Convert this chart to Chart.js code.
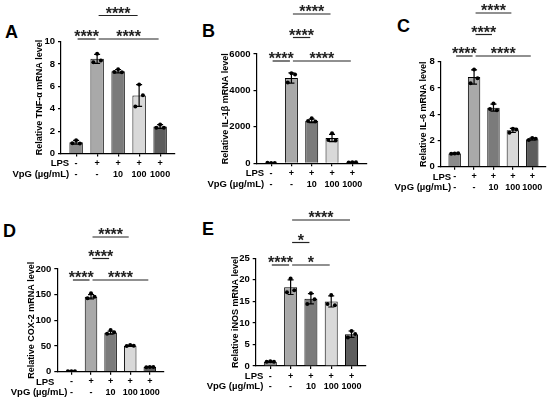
<!DOCTYPE html>
<html>
<head>
<meta charset="utf-8">
<script src="https://cdn.jsdelivr.net/npm/chart.js@4.4.1/dist/chart.umd.min.js"></script>
<style>
  html, body { margin: 0; padding: 0; background: #fff; }
  #fig { position: relative; width: 550px; height: 401px; overflow: hidden; font-family: 'Liberation Sans', Arial, sans-serif; }
  #fig canvas { position: absolute; }
  .tag { position: absolute; font-weight: bold; font-size: 18px; line-height: 18px; color: #000; }
</style>
</head>
<body>
<div id="fig">
  <div class="tag" style="left:5px;top:23px">A</div>
  <div class="tag" style="left:202px;top:22px">B</div>
  <div class="tag" style="left:397px;top:17px">C</div>
  <div class="tag" style="left:3px;top:222px">D</div>
  <div class="tag" style="left:202px;top:220px">E</div>
  <canvas id="chartA"></canvas>
  <canvas id="chartB"></canvas>
  <canvas id="chartC"></canvas>
  <canvas id="chartD"></canvas>
  <canvas id="chartE"></canvas>
</div>
<script>
// groups (x axis rows)
const lpsRow = ['-', '+', '+', '+', '+'];
const vpgRow = ['-', '-', '10', '100', '1000'];
const rowTitles = ['LPS', 'VpG (µg/mL)'];
const barColors = ['#8b8b8b', '#a9a9a9', '#7b7b7b', '#d9d9d9', '#5d5d5d'];

// A - TNF-a
const tnfMean = [1.0, 8.45, 7.35, 5.18, 2.4];
const tnfSd = [0.17, 0.4, 0.15, 0.97, 0.17];
const tnfPoints = [[1.18, 0.92, 0.9], [8.9, 8.15, 8.3], [7.52, 7.28, 7.25], [6.15, 4.2, 5.2], [2.6, 2.3, 2.3]];
const tnfTicks = [0, 2, 4, 6, 8, 10];
const tnfSig = [[0, 1, 0, '****'], [1, 4, 0, '****'], [1, 3, 1, '****']];

// B - IL-1b
const il1Mean = [20, 4680, 2330, 1390, 55];
const il1Sd = [5, 280, 100, 200, 10];
const il1Points = [[20, 25, 15], [4940, 4430, 4880], [2470, 2320, 2290], [1650, 1280, 1250], [60, 50, 55]];
const il1Ticks = [0, 2000, 4000, 6000];
const il1Sig = [[0, 1, 0, '****'], [1, 4, 0, '****'], [1, 2, 1, '****'], [1, 3, 2, '****']];

// C - IL-6
const il6Mean = [1.0, 6.83, 4.5, 2.77, 2.1];
const il6Sd = [0.03, 0.54, 0.27, 0.15, 0.08];
const il6Points = [[1.0, 0.98, 1.02], [7.41, 6.35, 6.73], [4.82, 4.39, 4.31], [2.89, 2.59, 2.84], [2.18, 2.03, 2.13]];
const il6Ticks = [0, 2, 4, 6, 8];
const il6Sig = [[0, 1, 0, '****'], [1, 4, 0, '****'], [1, 2, 1, '****'], [1, 3, 2, '****']];

// D - COX-2
const coxMean = [1, 146, 76, 50.5, 9];
const coxSd = [0.5, 4, 3, 1, 0.5];
const coxPoints = [[1, 1, 1], [153, 143, 146], [81, 74, 76.6], [52, 50, 50.6], [9, 8.5, 9]];
const coxTicks = [0, 50, 100, 150, 200];
const coxSig = [[0, 1, 0, '****'], [1, 4, 0, '****'], [1, 2, 1, '****'], [1, 3, 2, '****']];

// E - iNOS
const inosMean = [1.0, 18.3, 15.6, 15.0, 7.37];
const inosSd = [0.1, 1.7, 1.2, 1.3, 0.75];
const inosPoints = [[1.1, 1.0, 1.0], [20.3, 17.1, 17.6], [16.9, 14.4, 15.5], [16.5, 14.4, 14.1], [8.1, 6.6, 7.4]];
const inosTicks = [0, 5, 10, 15, 20, 25];
const inosSig = [[0, 1, 0, '****'], [1, 3, 0, '*'], [1, 2, 1, '*'], [1, 4, 2, '****']];

// replicate dot spread (x units) and axis range
const jitter = [0, -0.18, 0.18];
const xMin = -0.72, xMax = 4.7;
const rowLine = 10.5;

Chart.defaults.font.family = "'Liberation Sans', Arial, sans-serif";
Chart.defaults.font.size = 9;
Chart.defaults.font.weight = 'bold';
Chart.defaults.color = '#000';

const errPlugin = {
  id: 'err',
  afterDatasetDraw(chart, args, opts) {
    if (args.index !== 0) return;
    const { ctx, scales: { x, y } } = chart;
    ctx.save();
    ctx.strokeStyle = '#000';
    ctx.lineWidth = 1.2;
    opts.mean.forEach((m, i) => {
      const px = x.getPixelForValue(i);
      const top = y.getPixelForValue(m + opts.sd[i]);
      const bot = y.getPixelForValue(Math.max(0, m - opts.sd[i]));
      ctx.beginPath();
      ctx.moveTo(px, top); ctx.lineTo(px, bot);
      ctx.moveTo(px - 3, top); ctx.lineTo(px + 3, top);
      ctx.moveTo(px - 3, bot); ctx.lineTo(px + 3, bot);
      ctx.stroke();
    });
    ctx.restore();
  }
};

const sigPlugin = {
  id: 'sig',
  afterDraw(chart, args, opts) {
    const { ctx, chartArea, scales: { x } } = chart;
    ctx.save();
    opts.items.forEach(([a, b, level, text]) => {
      const y = chartArea.top + opts.base - level * opts.step;
      const x1 = x.getPixelForValue(a) + 1.5, x2 = x.getPixelForValue(b) - 1.5;
      ctx.strokeStyle = '#222';
      ctx.lineWidth = 1.2;
      ctx.beginPath(); ctx.moveTo(x1, y); ctx.lineTo(x2, y); ctx.stroke();
      ctx.font = "bold 16px 'Liberation Sans', Arial, sans-serif";
      ctx.fillStyle = '#222';
      ctx.textAlign = 'center';
      ctx.textBaseline = 'alphabetic';
      ctx.fillText(text, (x1 + x2) / 2, y + 3.3);
    });
    ctx.restore();
  }
};

const rowPlugin = {
  id: 'rows',
  afterDraw(chart, args, opts) {
    const { ctx, chartArea, scales: { x } } = chart;
    const x0 = x.getPixelForValue(0);
    ctx.save();
    ctx.font = "bold 9.5px 'Liberation Sans', Arial, sans-serif";
    ctx.fillStyle = '#000';
    ctx.textAlign = 'right';
    ctx.textBaseline = 'middle';
    rowTitles.forEach((t, k) => {
      ctx.fillText(t, x0 - opts.gaps[k], chartArea.bottom + 5 + rowLine * (k + 0.5));
    });
    ctx.restore();
  }
};

function makePanel(id, box, mean, sd, points, ticks, sig, title) {
  const axisRight = box.axisLeft + box.step * (xMax - xMin);
  const cLeft = box.canvasLeft, cTop = box.rowTop;
  const cWidth = Math.round(axisRight + 12 - cLeft);
  const cHeight = Math.round(box.axisBottom + 32 - cTop);
  const canvas = document.getElementById(id);
  canvas.width = cWidth;
  canvas.height = cHeight;
  canvas.style.left = cLeft + 'px';
  canvas.style.top = cTop + 'px';
  canvas.style.width = cWidth + 'px';
  canvas.style.height = cHeight + 'px';

  const padLeft = box.titleX - 5.4 - cLeft;
  const yWidth = box.axisLeft - cLeft - padLeft;
  const dots = [];
  points.forEach((reps, i) => reps.forEach((v, r) => dots.push({ x: i + jitter[r], y: v })));

  new Chart(canvas, {
    type: 'bar',
    data: {
      datasets: [{
        data: mean.map((v, i) => ({ x: i, y: v })),
        backgroundColor: barColors,
        borderColor: '#000',
        borderWidth: 1,
        categoryPercentage: 1,
        barPercentage: 0.64,
        order: 2
      }, {
        type: 'scatter',
        data: dots,
        pointRadius: 2,
        pointBackgroundColor: '#000',
        pointBorderWidth: 0,
        order: 1
      }]
    },
    options: {
      responsive: false,
      animation: false,
      layout: { padding: { left: padLeft, top: box.axisTop - cTop, right: cLeft + cWidth - axisRight, bottom: cTop + cHeight - box.axisBottom - 32 } },
      scales: {
        x: {
          type: 'linear', min: xMin, max: xMax, offset: false,
          afterBuildTicks: s => { s.ticks = lpsRow.map((_, i) => ({ value: i })); },
          afterFit: s => { s.height = 32; },
          grid: { drawOnChartArea: false, offset: false, color: '#000', tickLength: 3, lineWidth: 1.2 },
          border: { color: '#000', width: 1.2 },
          ticks: { padding: 2, maxRotation: 0, autoSkip: false, font: { size: 9, lineHeight: rowLine / 9 },
                   callback: v => [lpsRow[v], vpgRow[v]] }
        },
        y: {
          min: 0, max: ticks[ticks.length - 1],
          afterBuildTicks: s => { s.ticks = ticks.map(v => ({ value: v })); },
          afterFit: s => { s.width = yWidth; },
          grid: { drawOnChartArea: false, color: '#000', tickLength: 3, lineWidth: 1.2 },
          border: { color: '#000', width: 1.2 },
          ticks: { padding: 3, font: { size: 9.5 }, callback: v => String(v) },
          title: { display: true, text: title, padding: { top: 0, bottom: 0 } }
        }
      },
      plugins: {
        legend: { display: false },
        tooltip: { enabled: false },
        err: { mean: mean, sd: sd },
        sig: { items: sig, base: box.sigBase, step: box.sigStep },
        rows: { gaps: box.gaps }
      }
    },
    plugins: [errPlugin, sigPlugin, rowPlugin]
  });
}

makePanel('chartA', { canvasLeft: 0, rowTop: 0, axisLeft: 61, axisTop: 41.5, axisBottom: 153.5, step: 21, titleX: 40, sigBase: -2.5, sigStep: 23.5, gaps: [7, 7] },
  tnfMean, tnfSd, tnfPoints, tnfTicks, tnfSig, 'Relative TNF-α mRNA level');
makePanel('chartB', { canvasLeft: 198, rowTop: 0, axisLeft: 256.5, axisTop: 54, axisBottom: 163.3, step: 20.3, titleX: 226, sigBase: 7, sigStep: 23.5, gaps: [7, 7] },
  il1Mean, il1Sd, il1Points, il1Ticks, il1Sig, 'Relative IL-1β mRNA level');
makePanel('chartC', { canvasLeft: 384, rowTop: 0, axisLeft: 440.7, axisTop: 61.7, axisBottom: 166.7, step: 19.4, titleX: 424, sigBase: -5.7, sigStep: 21.5, gaps: [3.5, 3.5] },
  il6Mean, il6Sd, il6Points, il6Ticks, il6Sig, 'Relative IL-6 mRNA level');
makePanel('chartD', { canvasLeft: 0, rowTop: 195, axisLeft: 57.3, axisTop: 269, axisBottom: 371.7, step: 19.6, titleX: 32, sigBase: 11, sigStep: 21.5, gaps: [17, 4] },
  coxMean, coxSd, coxPoints, coxTicks, coxSig, 'Relative COX-2 mRNA level');
makePanel('chartE', { canvasLeft: 198, rowTop: 195, axisLeft: 255.7, axisTop: 258.3, axisBottom: 366, step: 20.3, titleX: 236, sigBase: 6.7, sigStep: 22.5, gaps: [7, 7] },
  inosMean, inosSd, inosPoints, inosTicks, inosSig, 'Relative iNOS mRNA level');
</script>
</body>
</html>
